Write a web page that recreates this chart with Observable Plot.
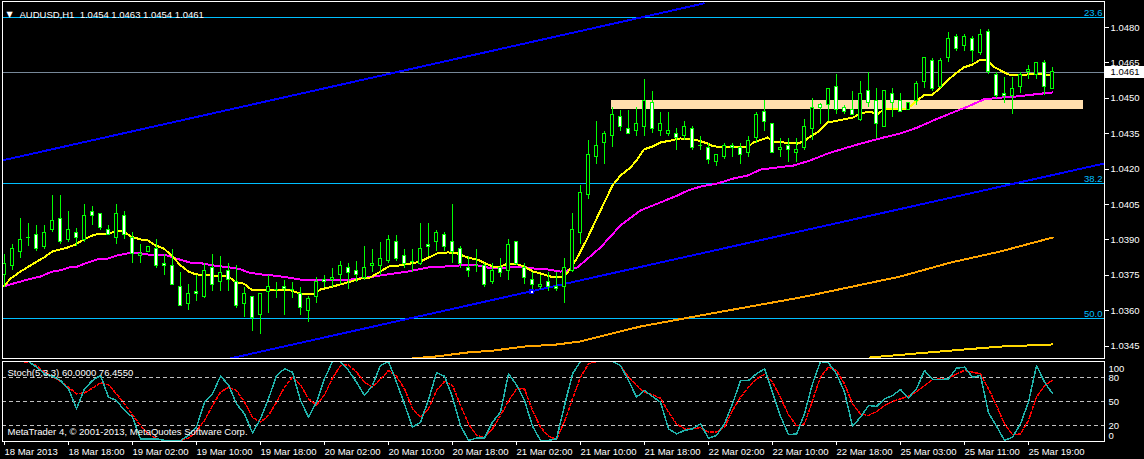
<!DOCTYPE html>
<html><head><meta charset="utf-8">
<script src="https://cdn.jsdelivr.net/npm/d3@7"></script>
<script src="https://cdn.jsdelivr.net/npm/@observablehq/plot@0.6"></script>
<style>
html,body{margin:0;padding:0;background:#000;}
#chart{position:relative;width:1144px;height:459px;background:#000;overflow:hidden;}
#chart svg{position:absolute;left:0;}
</style></head><body><div id="chart"></div>
<script>
// ---------- DATA ----------
const symbolTitle = "AUDUSD,H1\u00a0\u00a01.0454 1.0463 1.0454 1.0461";
const opens = [1.0375,1.0379,1.0385,1.0391,1.0392,1.0387,1.0394,1.0399,1.0390,1.0393,
1.0390,1.0402,1.0401,1.0394,1.0391,1.0400,1.0391,1.0383,1.0385,1.0386,
1.0380,1.0379,1.0370,1.0363,1.0368,1.0366,1.0378,1.0372,1.0377,1.0372,
1.0363,1.0366,1.0358,1.0368,1.0369,1.0370,1.0369,1.0367,1.0360,1.0366,
1.0373,1.0373,1.0375,1.0378,1.0377,1.0374,1.0379,1.0379,1.0381,1.0389,
1.0383,1.0381,1.0380,1.0388,1.0389,1.0392,1.0389,1.0386,1.0378,1.0379,
1.0379,1.0372,1.0378,1.0377,1.0389,1.0378,1.0373,1.0370,1.0372,1.0370,
1.0370,1.0377,1.0393,1.0409,1.0425,1.0431,1.0434,1.0442,1.0437,1.0436,
1.0438,1.0448,1.0436,1.0435,1.0435,1.0434,1.0437,1.0430,1.0429,1.0423,
1.0425,1.0430,1.0429,1.0427,1.0433,1.0444,1.0439,1.0428,1.0430,1.0427,
1.0429,1.0437,1.0447,1.0447,1.0455,1.0446,1.0445,1.0441,1.0453,1.0449,
1.0438,1.0452,1.0449,1.0445,1.0449,1.0457,1.0466,1.0455,1.0467,1.0476,
1.0472,1.0475,1.0469,1.0478,1.0460,1.0452,1.0451,1.0455,1.0461,1.0460,
1.0465,1.0454];
const highs = [1.0384,1.0388,1.0399,1.0397,1.0396,1.0396,1.0409,1.0409,1.0402,1.0395,
1.0405,1.0404,1.0401,1.0396,1.0405,1.0402,1.0393,1.0388,1.0387,1.0390,
1.0384,1.0386,1.0376,1.0371,1.0375,1.0380,1.0384,1.0383,1.0380,1.0379,
1.0370,1.0366,1.0367,1.0375,1.0372,1.0373,1.0372,1.0370,1.0366,1.0374,
1.0375,1.0378,1.0381,1.0380,1.0381,1.0387,1.0386,1.0389,1.0392,1.0392,
1.0386,1.0386,1.0397,1.0397,1.0394,1.0393,1.0405,1.0387,1.0383,1.0386,
1.0380,1.0380,1.0382,1.0390,1.0389,1.0380,1.0376,1.0375,1.0376,1.0376,
1.0382,1.0401,1.0413,1.0432,1.0440,1.0436,1.0446,1.0445,1.0445,1.0446,
1.0458,1.0453,1.0444,1.0444,1.0437,1.0440,1.0438,1.0434,1.0431,1.0426,
1.0431,1.0431,1.0431,1.0434,1.0444,1.0449,1.0439,1.0433,1.0433,1.0433,
1.0441,1.0450,1.0448,1.0454,1.0460,1.0447,1.0453,1.0457,1.0461,1.0454,
1.0453,1.0454,1.0452,1.0448,1.0457,1.0467,1.0467,1.0467,1.0478,1.0477,
1.0477,1.0476,1.0479,1.0479,1.0461,1.0459,1.0459,1.0461,1.0464,1.0465,
1.0466,1.0463];
const lows = [1.0370,1.0377,1.0382,1.0387,1.0385,1.0386,1.0393,1.0388,1.0389,1.0387,
1.0389,1.0396,1.0394,1.0392,1.0388,1.0390,1.0380,1.0380,1.0385,1.0378,
1.0375,1.0371,1.0362,1.0360,1.0364,1.0365,1.0368,1.0368,1.0368,1.0361,
1.0357,1.0351,1.0350,1.0359,1.0365,1.0358,1.0365,1.0358,1.0355,1.0363,
1.0370,1.0370,1.0371,1.0369,1.0372,1.0373,1.0376,1.0375,1.0380,1.0381,
1.0378,1.0376,1.0379,1.0383,1.0385,1.0385,1.0380,1.0378,1.0374,1.0376,
1.0370,1.0371,1.0374,1.0373,1.0379,1.0371,1.0369,1.0369,1.0368,1.0368,
1.0363,1.0376,1.0388,1.0407,1.0422,1.0422,1.0429,1.0436,1.0435,1.0434,
1.0434,1.0435,1.0434,1.0434,1.0428,1.0432,1.0428,1.0428,1.0422,1.0421,
1.0424,1.0425,1.0422,1.0425,1.0431,1.0436,1.0427,1.0425,1.0423,1.0423,
1.0428,1.0432,1.0439,1.0440,1.0443,1.0443,1.0443,1.0440,1.0446,1.0433,
1.0438,1.0442,1.0444,1.0445,1.0447,1.0454,1.0453,1.0454,1.0465,1.0470,
1.0470,1.0465,1.0468,1.0460,1.0450,1.0448,1.0443,1.0452,1.0458,1.0458,
1.0451,1.0454];
const closes = [1.0380,1.0386,1.0390,1.0391,1.0386,1.0393,1.0398,1.0389,1.0394,1.0391,
1.0400,1.0400,1.0395,1.0392,1.0401,1.0392,1.0384,1.0384,1.0387,1.0379,
1.0379,1.0371,1.0362,1.0367,1.0367,1.0377,1.0371,1.0376,1.0373,1.0362,
1.0367,1.0357,1.0367,1.0370,1.0369,1.0369,1.0369,1.0361,1.0365,1.0372,
1.0372,1.0374,1.0379,1.0376,1.0375,1.0378,1.0380,1.0382,1.0390,1.0382,
1.0380,1.0381,1.0386,1.0387,1.0393,1.0387,1.0385,1.0380,1.0377,1.0379,
1.0371,1.0377,1.0376,1.0388,1.0380,1.0374,1.0371,1.0371,1.0370,1.0369,
1.0378,1.0394,1.0410,1.0426,1.0430,1.0435,1.0443,1.0438,1.0435,1.0439,
1.0449,1.0437,1.0439,1.0436,1.0433,1.0438,1.0429,1.0430,1.0424,1.0426,
1.0430,1.0429,1.0426,1.0432,1.0443,1.0440,1.0427,1.0429,1.0428,1.0428,
1.0438,1.0446,1.0446,1.0454,1.0445,1.0444,1.0443,1.0452,1.0448,1.0439,
1.0453,1.0448,1.0444,1.0448,1.0456,1.0467,1.0454,1.0466,1.0475,1.0471,
1.0476,1.0470,1.0477,1.0461,1.0451,1.0451,1.0454,1.0460,1.0462,1.0465,
1.0455,1.0461];

// Fast MA (yellow): bar position, value
const fastMaBar = [-0.1,0.75,2,3.25,4.9,6,7.9,8.9,9.9,11,12,13,13.9,14.9,15.75,17,17.9,18.9,19.9,21,
22,23,23.9,26,28,28.9,29.9,31,35.75,37,38.5,39.5,41.1,42.9,44.5,45.75,47,48,49.5,50.75,
52,53,54.1,55.4,56.6,57.9,59.1,60.1,61.1,62,62.9,63.9,64.9,66.1,67.4,68.6,69.9,70.75,71.6,72.9,
74.5,75.1,76,77,78.25,79.1,79.9,81,82,83.25,84.5,86.75,87.9,88.6,92.9,93.6,95.4,96,99.1,99.9,
100.75,101.75,102.9,103.6,106.1,107,108.25,109.1,109.9,112.9,114.1,114.9,116,116.6,117.6,118.6,119.9,121,122,122.9,
123.6,124.5,125.5,126.6,127.9,128.9,129.75,131];
const fastMaVal = [1.03703,1.03736,1.03766,1.03792,1.03825,1.03851,1.03868,1.03881,1.03902,1.03919,1.03927,1.03927,1.03936,1.03936,1.03915,1.03902,1.03898,1.03876,1.03864,1.03830,
1.03792,1.03766,1.03754,1.03749,1.03745,1.03720,1.03715,1.03686,1.03686,1.03673,1.03669,1.03690,1.03703,1.03720,1.03736,1.03741,1.03766,1.03787,1.03792,1.03800,
1.03808,1.03825,1.03843,1.03847,1.03843,1.03825,1.03817,1.03800,1.03787,1.03787,1.03800,1.03800,1.03787,1.03766,1.03754,1.03741,1.03741,1.03779,1.03825,1.03910,
1.04025,1.04067,1.04131,1.04173,1.04207,1.04241,1.04283,1.04296,1.04313,1.04321,1.04330,1.04321,1.04308,1.04296,1.04292,1.04313,1.04334,1.04317,1.04308,1.04317,
1.04338,1.04359,1.04398,1.04402,1.04419,1.04436,1.04444,1.04431,1.04453,1.04457,1.04491,1.04512,1.04516,1.04533,1.04567,1.04597,1.04631,1.04643,1.04664,1.04660,
1.04635,1.04618,1.04601,1.04597,1.04601,1.04605,1.04601,1.04597];

// Slow MA (magenta)
const slowMaBar = [-0.1,1.1,2.9,4.5,6,7,8,9.1,10.4,11.6,12.9,14.1,15.4,17,18,19.9,21.1,22.25,23.25,24.75,
26.1,28.25,29.5,30.5,32,33.6,35.4,37,43.25,45.4,47.9,50.4,52.9,54.9,57,59.1,60.4,62.9,64.5,66.1,
67.9,69.5,70.4,71.6,72.9,74.5,77,79.5,82.6,84.1,85.4,87,89.1,91.1,92.9,94.5,96.6,98.6,100.75,102.9,
104.9,107,109.9,112,114.1,116.1,118.25,120.4,122.4,124.5,126.6,128.6,131];
const slowMaVal = [1.03703,1.03715,1.03732,1.03745,1.03766,1.03771,1.03783,1.03787,1.03804,1.03817,1.03821,1.03834,1.03843,1.03843,1.03838,1.03838,1.03825,1.03813,1.03804,1.03800,
1.03792,1.03783,1.03775,1.03762,1.03754,1.03749,1.03741,1.03732,1.03732,1.03741,1.03754,1.03766,1.03783,1.03787,1.03792,1.03792,1.03783,1.03783,1.03787,1.03779,
1.03775,1.03766,1.03771,1.03783,1.03821,1.03868,1.03961,1.04025,1.04067,1.04088,1.04109,1.04126,1.04139,1.04160,1.04173,1.04198,1.04207,1.04215,1.04237,1.04266,
1.04287,1.04308,1.04334,1.04351,1.04376,1.04406,1.04436,1.04465,1.04495,1.04503,1.04508,1.04516,1.04525];

// Long MA (orange) and very long MA (gold)
const longMaBar = [51,53.9,57.9,61.1,64.9,69.1,72,75.4,79.5,87,99.5,112,118.25,124.5,131];
const longMaVal = [1.03398,1.03406,1.03423,1.03431,1.03448,1.03457,1.03470,1.03499,1.03533,1.03580,1.03656,1.03745,1.03804,1.03851,1.03910];
const vLongMaBar = [108.25,118.25,124.5,131];
const vLongMaVal = [1.03402,1.03431,1.03448,1.03457];

// Trend lines (blue)
const trendId  = ["upper","upper","lower","lower"];
const trendBar = [-0.25,87.4,28.25,137.5];
const trendVal = [1.04237,1.04902,1.03398,1.04224];
const anchorBar = [65.9], anchorVal = [1.03681];

// Support zone rectangle
const zoneBar = [75.9,134.9];
const zoneVal = [1.04453,1.04491];

// Fibonacci levels
const fibLevels = [1.04842,1.04139,1.03567];
const fibLabels = ["23.6","38.2","50.0"];

const bidPrice = 1.0461;
const priceTicks = [1.0345,1.0360,1.0375,1.0390,1.0405,1.0420,1.0435,1.0450,1.0465,1.0480];

// Stochastic (5,3,3)
const stochK = [100,100,100,100,93,84.6,81.7,76.3,65.8,40.8,65.8,76.3,82.5,55.4,51.3,38.8,30.4,3.3,3.3,3.3,
1.3,1.3,1.3,7.5,17.9,49.2,59.6,81.7,70.8,47.1,34.6,10.8,28.3,53.3,82.5,90.8,86.7,51.3,30.4,49.2,
78.3,100,100,88.8,74.2,57.5,70,95,100,74.2,46.7,17.9,24.2,52.1,85.8,81.7,55.4,20,1.3,4.2,
4.2,24.2,36.7,84.6,70.8,51.3,19.2,1.3,1.3,3.3,45,84.6,100,100,100,100,100,95,76.3,55.4,
63.8,56.3,49.2,15.8,9.6,13.8,15.8,22.1,4.2,7.5,22.1,47,76.3,76.3,84.6,90.8,61.7,31.5,8.8,9.2,
34.6,72.1,100,98.3,84.6,61.7,19.2,30.4,45,43.8,53.3,57.5,65,54.6,65.8,88.8,77.5,77.5,78.3,91.7,
92.9,80.4,82.5,35.8,19.2,1.3,5.4,22.1,49.2,95,74.2,60];
const stochD = [100,100,100,99,95,86.7,81.3,75,68,59.6,60.8,66.7,73.3,70.8,59.6,47,33.3,20,9.6,3.3,
1.3,1.3,1.3,4.2,12.5,26.3,45,61.7,67.9,63.8,49.2,30.4,24.2,32.5,49.2,67.9,80.4,70.8,53.3,45.8,
58.3,79.2,95,95.8,86.7,74.2,67.9,77.5,88.8,81.7,65.8,40.8,30.4,40.8,63.8,75,70,45,22.1,7.5,
5.4,15.8,32.5,50.4,65.8,65.8,38.8,17.9,6.7,2.5,25,53.3,80.4,97,100,100,100,95,80.4,70,
61.7,58.3,54.2,36.7,22.1,15.8,15.8,17.5,11.7,11.7,17.9,38.8,55.4,67.9,78.3,83.8,74.2,55,33.5,19.4,
22.1,51.3,80.4,92.9,88.8,72.1,47,34.6,32.5,37.5,45,50,53.3,56.7,62.5,70,77.5,78.3,78.3,84.6,
88.8,86.7,84.6,65.8,45,22.1,8.3,9.6,26.3,55.4,70,76.455];
const stochLevels = [20,50,80];
const stochTitle = "Stoch(5,3,3) 60.0000 76.4550";
const copyright = "MetaTrader 4, \u00a9 2001-2013, MetaQuotes Software Corp.";

const timeTickBars = [0,8,16,24,32,40,48,56,64,72,80,88,96,104,112,120,128];
const timeLabels = ["18 Mar 2013","18 Mar 18:00","19 Mar 02:00","19 Mar 10:00","19 Mar 18:00","20 Mar 02:00","20 Mar 10:00","20 Mar 18:00","21 Mar 02:00","21 Mar 10:00","21 Mar 18:00","22 Mar 02:00","22 Mar 10:00","22 Mar 18:00","25 Mar 03:00","25 Mar 11:00","25 Mar 19:00"];

// ---------- CHART ----------
const W = 1144;
const XD = [-0.25, 137.5];
const FONT = "'Liberation Sans', Arial, Helvetica, sans-serif";
const baseStyle = {background:"#000", color:"#fff", fontFamily: FONT, fontSize:"9.5px", shapeRendering:"crispEdges"};
const pts = (bars, vals) => bars.map((b,k)=>({b, v: vals[k]}));
const candles = opens.map((o,i)=>({i, o, h: highs[i], l: lows[i], c: closes[i]}));
const bulls = candles.filter(d=>d.c>d.o), bears = candles.filter(d=>d.c<d.o), dojis = candles.filter(d=>d.c===d.o);
const bodyOpts = {x1: d=>d.i-0.22, x2: d=>d.i+0.22, y1: d=>Math.min(d.o,d.c), y2: d=>Math.max(d.o,d.c), stroke:"#00ff00", strokeWidth:1};
const trend = trendBar.map((b,k)=>({id: trendId[k], b, v: trendVal[k]}));
const zone = [{b1: zoneBar[0], b2: zoneBar[1], v1: zoneVal[0], v2: zoneVal[1]}];
const fib = fibLevels.map((v,k)=>({v, label: fibLabels[k]}));
const labelOf = new Map(timeTickBars.map((b,k)=>[b, timeLabels[k]]));

const price = Plot.plot({
  width: W, height: 359, marginLeft: 2, marginRight: 40, marginTop: 1, marginBottom: 1,
  style: baseStyle,
  x: {domain: XD, axis: null},
  y: {domain: [1.033975, 1.049102], axis: null},
  marks: [
    Plot.rect(zone, {x1:"b1", x2:"b2", y1:"v1", y2:"v2", fill:"#ffdead"}),
    Plot.ruleY(fib, {y:"v", stroke:"#00bfff"}),
    Plot.text(fib, {x: ()=>XD[1], y:"v", text:"label", textAnchor:"end", dx:-2, dy:-4.5, fill:"#00bfff"}),
    Plot.ruleY([bidPrice], {stroke:"#778899"}),
    Plot.line(trend, {x:"b", y:"v", z:"id", stroke:"#0000ff", strokeWidth:2, clip:true}),
    Plot.line(pts(vLongMaBar, vLongMaVal), {x:"b", y:"v", stroke:"#ffd700", strokeWidth:2, clip:true}),
    Plot.line(pts(longMaBar, longMaVal), {x:"b", y:"v", stroke:"#ffa500", strokeWidth:2, clip:true}),
    Plot.line(pts(slowMaBar, slowMaVal), {x:"b", y:"v", stroke:"#ff00ff", strokeWidth:2}),
    Plot.line(pts(fastMaBar, fastMaVal), {x:"b", y:"v", stroke:"#ffff00", strokeWidth:2}),
    Plot.ruleX(candles, {x:"i", y1:"l", y2:"h", stroke:"#00ff00"}),
    Plot.rect(bulls, {...bodyOpts, fill:"#000"}),
    Plot.rect(bears, {...bodyOpts, fill:"#fff"}),
    Plot.ruleY(dojis, {y:"c", x1: d=>d.i-0.3, x2: d=>d.i+0.3, stroke:"#00ff00"}),
    Plot.dot(pts(anchorBar, anchorVal), {x:"b", y:"v", symbol:"square", r:2, fill:"#fff", stroke:"#0000ff"}),
    Plot.frame({stroke:"#fff"}),
    Plot.axisY(priceTicks, {anchor:"right", tickSize:4, tickPadding:2, tickFormat: d=>d.toFixed(4), stroke:"#fff", fill:"#fff"}),
    Plot.rect([bidPrice], {x1: ()=>XD[1], x2: ()=>XD[1]+5, y1: d=>d-0.00026, y2: d=>d+0.00026, fill:"#fff"}),
    Plot.text([bidPrice], {x: ()=>XD[1], y: d=>d, dx:6, text: d=>d.toFixed(4), textAnchor:"start", fill:"#000"}),
    Plot.text(["\u25BC"], {frameAnchor:"top-left", dx:4, dy:9.5, text: d=>d, fontSize:8, fill:"#fff", fontFamily:"DejaVu Sans"}),
    Plot.text([symbolTitle], {frameAnchor:"top-left", dx:17, dy:10, text: d=>d, textAnchor:"start", fill:"#fff"})
  ]
});

const stoch = Plot.plot({
  width: W, height: 100, marginLeft: 2, marginRight: 40, marginTop: 2, marginBottom: 18,
  style: baseStyle,
  x: {domain: XD, axis: null},
  y: {domain: [0,100], axis: null},
  marks: [
    Plot.ruleY(stochLevels, {stroke:"#c0c0c0", strokeDasharray:"4,3"}),
    Plot.line(stochD, {x:(d,i)=>i, y:d=>d, stroke:"#ff0000", strokeDasharray:"3,2"}),
    Plot.line(stochK, {x:(d,i)=>i, y:d=>d, stroke:"#20b2aa"}),
    Plot.frame({stroke:"#fff"}),
    Plot.axisX(timeTickBars, {anchor:"bottom", tickSize:4, tickPadding:3, tickFormat: d=>labelOf.get(d), textAnchor:"start", stroke:"#fff", fill:"#fff"}),
    Plot.text(stochLevels, {x: ()=>XD[1], y: d=>d, dx:4, text: d=>String(d), textAnchor:"start", fill:"#fff"}),
    Plot.text([100], {x: ()=>XD[1], y: d=>d, dx:4, dy:7, text: d=>String(d), textAnchor:"start", fill:"#fff"}),
    Plot.text([0], {x: ()=>XD[1], y: d=>d, dx:4, dy:-6, text: d=>String(d), textAnchor:"start", fill:"#fff"}),
    Plot.text([stochTitle], {frameAnchor:"top-left", dx:5, dy:8, text: d=>d, textAnchor:"start", fill:"#fff"}),
    Plot.text([copyright], {frameAnchor:"bottom-left", dx:5, dy:-7, text: d=>d, textAnchor:"start", fill:"#fff"})
  ]
});

const root = document.getElementById("chart");
price.style.top = "0px";
stoch.style.top = "359px";
root.appendChild(price);
root.appendChild(stoch);
</script>
</body></html>
